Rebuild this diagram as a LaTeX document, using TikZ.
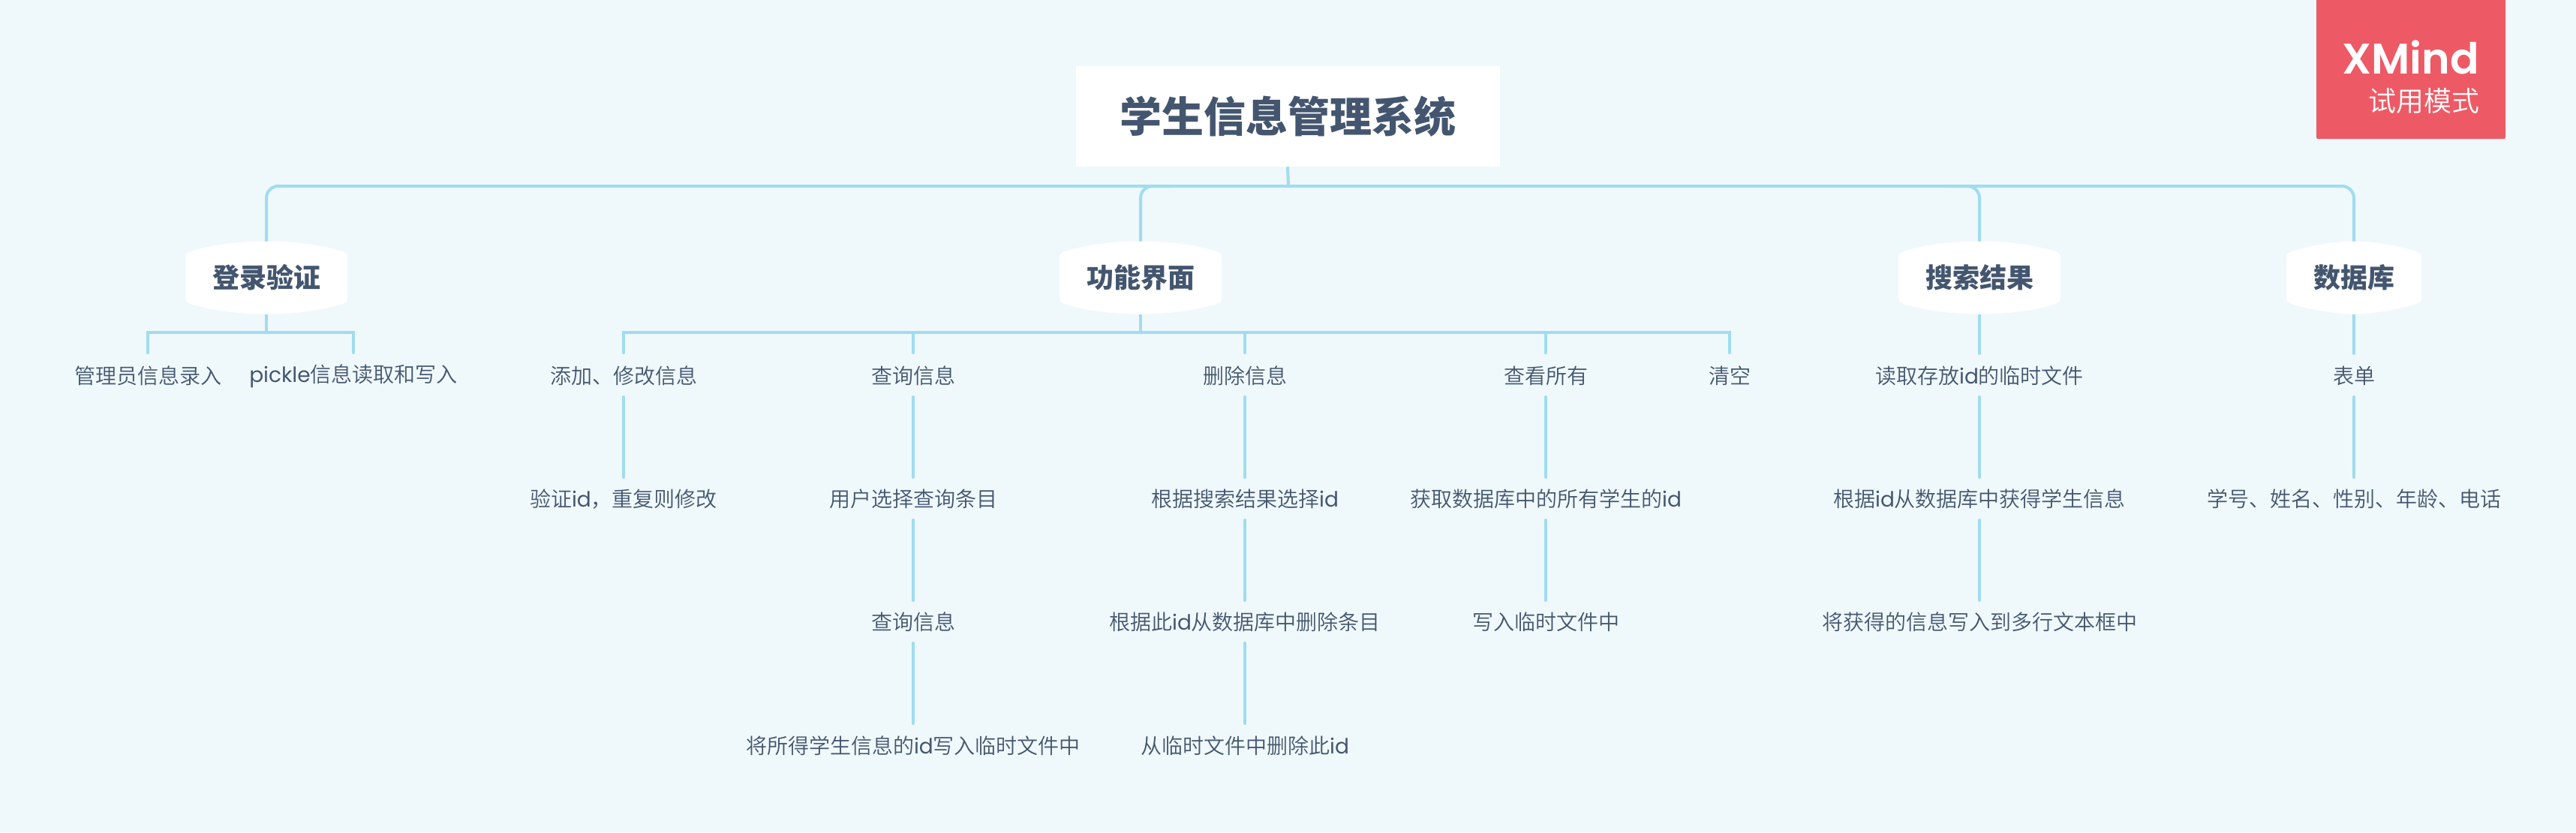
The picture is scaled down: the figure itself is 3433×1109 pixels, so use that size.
\documentclass[tikz,border=0pt]{standalone}
\usepackage{fontspec}
\setmainfont{Noto Sans CJK SC}
\newfontfamily\lightcjk{Noto Sans CJK SC DemiLight}
\newfontfamily\latfont{Poppins}
\newfontfamily\xmfont{Poppins SemiBold}
\newcommand{\lat}[1]{{\latfont #1}}
\definecolor{bgc}{HTML}{EFF8FB}
\definecolor{linec}{HTML}{A0DCEF}
\definecolor{txtc}{HTML}{44566F}
\definecolor{redc}{HTML}{ED5A65}
\tikzset{
  conn/.style={draw=linec,line width=4pt,line join=miter},
  rod/.style={draw=linec,line width=4pt,line cap=round},
  rootbox/.style={fill=white,minimum width=565pt,minimum height=134pt,inner sep=0pt,text=txtc,font=\fontsize{56}{60}\selectfont\bfseries},
  branchtext/.style={inner sep=0pt,text=txtc,font=\fontsize{36}{40}\selectfont\bfseries},
  leaf/.style={inner sep=0pt,text=txtc,font=\lightcjk\fontsize{28}{32}\selectfont},
}
\newcommand{\branchshape}[3]{% cx, cy, half width
  \fill[white] (#1-#3,#2-27) .. controls (#1-#3,#2-32) and (#1-#3+3,#2-34) .. (#1-#3+10,#2-36)
    .. controls (#1-#3+35,#2-43.5) and (#1-#3+68,#2-48.5) .. (#1,#2-48.5)
    .. controls (#1+#3-68,#2-48.5) and (#1+#3-35,#2-43.5) .. (#1+#3-10,#2-36)
    .. controls (#1+#3-3,#2-34) and (#1+#3,#2-32) .. (#1+#3,#2-27)
    -- (#1+#3,#2+27)
    .. controls (#1+#3,#2+32) and (#1+#3-3,#2+34) .. (#1+#3-10,#2+36)
    .. controls (#1+#3-35,#2+43.5) and (#1+#3-68,#2+48.5) .. (#1,#2+48.5)
    .. controls (#1-#3+68,#2+48.5) and (#1-#3+35,#2+43.5) .. (#1-#3+10,#2+36)
    .. controls (#1-#3+3,#2+34) and (#1-#3,#2+32) .. (#1-#3,#2+27) -- cycle;
}
\begin{document}
\begin{tikzpicture}[x=1pt,y=-1pt]
\useasboundingbox (0,0) rectangle (3433,1109);
\fill[bgc] (0,0) rectangle (3433,1109);

% watermark
\fill[redc,rounded corners=2pt] (3087,-6) rectangle (3339,185);
\node[anchor=east,inner sep=0pt,text=white,font=\xmfont\fontsize{57}{60}\selectfont] (xm) at (3304,76) {XMind};
\node[anchor=east,inner sep=0pt,text=white,font=\lightcjk\fontsize{37}{40}\selectfont] (xmb) at (3305,135) {试用模式};

% coordinates
\coordinate (hub) at (1717,248);
\coordinate (dA) at (355,248);
\coordinate (dB) at (1520,248);
\coordinate (dC) at (2638,248);
\coordinate (dD) at (3137,248);

% root connectors
\node[rootbox] (root) at (1716,155) {\raisebox{1pt}{学生信息管理系统}};
\draw[conn] (root.south) -- (hub);
\draw[conn,rounded corners=16pt] (355,330) -- (dA) -- (dD) -- (3137,330);
\draw[conn,rounded corners=16pt] (1520,330) -- (dB) -- (1560,248);
\draw[conn,rounded corners=16pt] (2638,330) -- (dC) -- (2600,248);

% branches
\branchshape{355}{370}{108}
\branchshape{1520}{370}{108}
\branchshape{2638}{370}{108}
\branchshape{3137}{370}{90}
\node[branchtext] (b1) at (355,370) {登录验证};
\node[branchtext] (b2) at (1520,370) {功能界面};
\node[branchtext] (b3) at (2638,370) {搜索结果};
\node[branchtext] (b4) at (3137,370) {数据库};

% leaves
\node[leaf] (a1) at (197,501) {管理员信息录入};
\node[leaf] (a2) at (471,501) {\lat{pickle}信息读取和写入};
\node[leaf] (c1) at (831,501) {添加、修改信息};
\node[leaf] (c2) at (831,665) {验证\lat{id}，重复则修改};
\node[leaf] (d1) at (1217,501) {查询信息};
\node[leaf] (d2) at (1217,665) {用户选择查询条目};
\node[leaf] (d3) at (1217,829) {查询信息};
\node[leaf] (d4) at (1217,994) {将所得学生信息的\lat{id}写入临时文件中};
\node[leaf] (e1) at (1659,501) {删除信息};
\node[leaf] (e2) at (1659,665) {根据搜索结果选择\lat{id}};
\node[leaf] (e3) at (1659,829) {根据此\lat{id}从数据库中删除条目};
\node[leaf] (e4) at (1659,994) {从临时文件中删除此\lat{id}};
\node[leaf] (f1) at (2060,501) {查看所有};
\node[leaf] (f2) at (2060,665) {获取数据库中的所有学生的\lat{id}};
\node[leaf] (f3) at (2060,829) {写入临时文件中};
\node[leaf] (g1) at (2305,501) {清空};
\node[leaf] (h1) at (2638,501) {读取存放\lat{id}的临时文件};
\node[leaf] (h2) at (2638,665) {根据\lat{id}从数据库中获得学生信息};
\node[leaf] (h3) at (2638,829) {将获得的信息写入到多行文本框中};
\node[leaf] (i1) at (3137,501) {表单};
\node[leaf] (i2) at (3137,665) {学号、姓名、性别、年龄、电话};

% sub connectors
\coordinate (ba) at (355,443);
\coordinate (bb) at (1520,443);
\draw[conn] (355,419) -- (ba);
\draw[rod] (197,443) -- (197,470);
\draw[rod] (471,443) -- (471,470);
\draw[conn] (195,443) -- (473,443);
\draw[conn] (1520,419) -- (bb);
\draw[rod] (831,443) -- (831,470);
\draw[rod] (2305,443) -- (2305,470);
\draw[conn] (829,443) -- (2307,443);
\draw[rod] (1217,443) -- (1217,470);
\draw[rod] (1659,443) -- (1659,470);
\draw[rod] (2060,443) -- (2060,470);
\draw[conn] (2638,419) -- (2638,470);
\draw[rod] (2638,470) -- (2638,471);
\draw[conn] (3137,419) -- (3137,470);
\draw[rod] (3137,470) -- (3137,471);
\foreach \nd/\ny in {c1/499,d1/499,d2/663,d3/827,e1/499,e2/663,e3/827,f1/499,f2/663,h1/499,h2/663,i1/499}{
  \draw[rod] (\nd |- 0,\ny) ++(0,30) -- ++(0,107);
}
\end{tikzpicture}
\end{document}
